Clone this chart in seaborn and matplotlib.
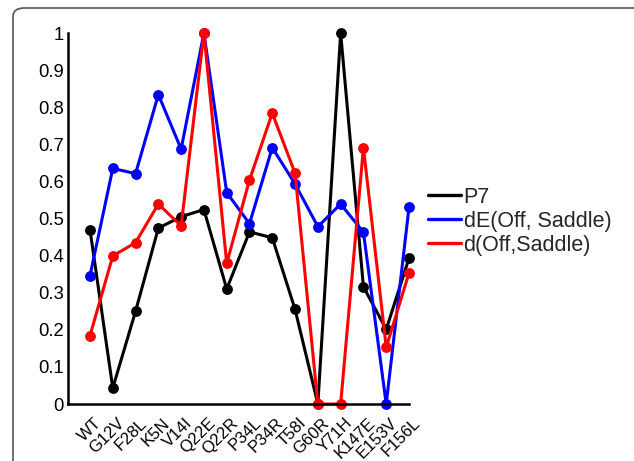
import numpy as np
import pandas as pd
import seaborn as sns
import matplotlib
matplotlib.use("Agg")
import matplotlib.pyplot as plt
import matplotlib.transforms as mtransforms
from matplotlib.lines import Line2D
from matplotlib.patches import FancyBboxPatch

mutants = ["WT", "G12V", "F28L", "K5N", "V14I", "Q22E", "Q22R", "P34L",
           "P34R", "T58I", "G60R", "Y71H", "K147E", "E153V", "F156L"]
p7 = [0.47, 0.043, 0.25, 0.474, 0.505, 0.524, 0.31, 0.464, 0.448, 0.255,
      0.0, 1.0, 0.316, 0.201, 0.393]
de_off_saddle = [0.346, 0.635, 0.621, 0.834, 0.687, 1.0, 0.57, 0.486, 0.691,
                 0.593, 0.478, 0.539, 0.463, 0.0, 0.53]
d_off_saddle = [0.184, 0.399, 0.435, 0.539, 0.48, 1.0, 0.379, 0.604, 0.784,
                0.622, 0.0, 0.0, 0.691, 0.153, 0.353]
series_names = ["P7", "dE(Off, Saddle)", "d(Off,Saddle)"]
series_colors = ["#000000", "#0000ff", "#ff0000"]
y_ticks = [0, 0.1, 0.2, 0.3, 0.4, 0.5, 0.6, 0.7, 0.8, 0.9, 1]
y_tick_labels = ["0", "0.1", "0.2", "0.3", "0.4", "0.5", "0.6", "0.7", "0.8", "0.9", "1"]

sns.set_theme(style="white")
plt.rcParams["font.family"] = ["Liberation Sans", "DejaVu Sans"]

pos = np.arange(len(mutants))
df = pd.concat([
    pd.DataFrame({"pos": pos, "mutant": mutants, "value": vals, "series": name})
    for name, vals in zip(series_names, [p7, de_off_saddle, d_off_saddle])
], ignore_index=True)

fig = plt.figure(figsize=(6.34, 4.61), dpi=100)
ax = fig.add_axes([68 / 634, 1 - 404 / 461, (409 - 68) / 634, (404 - 33) / 461])

sns.lineplot(data=df, x="pos", y="value", hue="series", hue_order=series_names,
             palette=series_colors, marker="o", markersize=7.8, markeredgewidth=0,
             linewidth=2.2, legend=False, ax=ax, clip_on=False)

ax.set_xlim(-0.965, len(mutants) - 1)
ax.set_ylim(0, 1)
ax.set_xticks(pos)
ax.set_xticklabels(mutants, rotation=45, ha="right", va="center",
                   rotation_mode="anchor", fontsize=12)
ax.set_yticks(y_ticks)
ax.set_yticklabels(y_tick_labels, fontsize=13.3)
ax.set_xlabel("")
ax.set_ylabel("")
ax.tick_params(axis="both", direction="in", length=4, width=1.2, color="black",
               labelcolor="black")
ax.tick_params(axis="x", pad=12)
ax.tick_params(axis="y", pad=3)
# nudge the slanted mutant names to the right of their ticks
shift = mtransforms.ScaledTranslation(9 / 100, 0, fig.dpi_scale_trans)
for lab in ax.get_xticklabels():
    lab.set_transform(lab.get_transform() + shift)
for side in ["top", "right"]:
    ax.spines[side].set_visible(False)
for side in ["left", "bottom"]:
    ax.spines[side].set_color("black")
    ax.spines[side].set_linewidth(1.8)

handles = [Line2D([], [], color=c, linewidth=2.4) for c in series_colors]
fig.legend(handles, series_names, loc="upper left",
           bbox_to_anchor=(428 / 634, 1 - 187 / 461), frameon=False,
           fontsize=15.5, handlelength=1.55, handletextpad=0.1,
           labelspacing=0.14, borderpad=0, borderaxespad=0)

frame = FancyBboxPatch((13 / 634, -0.1), 1.2, 1 - 8 / 461 + 0.1,
                       boxstyle="round,pad=0,rounding_size=0.018",
                       transform=fig.transFigure, fill=False,
                       edgecolor="#555555", linewidth=1.2, clip_on=False)
fig.patches.append(frame)

fig.savefig("out.png", dpi=100)
